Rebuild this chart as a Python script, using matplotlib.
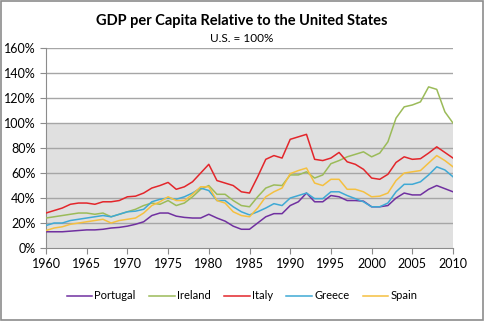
import numpy as np
import matplotlib
matplotlib.use("Agg")
import matplotlib.pyplot as plt
from matplotlib.ticker import FuncFormatter, MultipleLocator
from matplotlib.patches import Rectangle

plt.rcParams['font.family'] = ['Lato', 'DejaVu Sans']

years = list(range(1960, 2011))

portugal = [13, 13, 13, 13.5, 14, 14.5, 14.5, 15, 16, 16.5,
            17.5, 19, 21, 26, 28, 28, 25.5, 24.5, 24, 24,
            27, 24, 21.5, 17.5, 15, 15, 20, 25, 27.5, 27.5,
            34, 37, 44, 37, 37, 42, 41, 38, 38, 37.5,
            33, 33, 34, 40, 44, 42.5, 42.5, 47, 50, 47.5,
            45]
ireland = [24, 25, 26, 27, 28, 28, 27, 28, 25, 27,
           29, 31, 34, 36, 35, 38, 34, 36, 41, 47,
           50, 43, 43, 38, 34, 33, 41, 48, 50.5, 50,
           58.5, 58.5, 61, 56, 58.5, 67.5, 70, 73, 75, 77,
           73, 76, 85, 104, 113, 114.5, 117, 129, 127, 109,
           100]
italy = [28, 30, 32, 35, 36, 36, 35, 37, 37, 38,
         41, 41.5, 44, 48, 50, 52.5, 47, 49, 53, 60,
         67, 54, 52, 50, 45, 44, 57, 71, 74, 72,
         87, 89, 91, 71, 70, 72, 76.5, 69, 67, 63,
         56, 55, 59, 68.5, 73, 71, 71.5, 76, 81, 76.5,
         72]
greece = [18, 20, 20, 22, 23, 24, 25, 26, 25, 27,
          29, 29.5, 31, 37, 39, 40, 39, 41, 44, 48,
          46, 38, 38, 33, 29, 26.5, 29, 32, 35.5, 34,
          40, 42, 44, 39.5, 39.5, 45, 45, 42, 39.5, 37,
          33, 33, 36, 45, 51, 51, 53, 58.5, 65, 62.5,
          57]
spain = [14, 16, 17, 19, 20, 21, 22, 23, 20, 22,
         23, 24, 28, 34, 37, 41, 38, 38, 43, 49,
         49, 38, 36, 29, 26, 25, 32, 41, 45, 48,
         59.5, 62, 64, 52, 50, 55, 55, 47, 47, 45,
         41, 41.5, 44, 54, 60, 61, 62, 68, 74, 70,
         65]

series = [("Portugal", portugal, "#7030A0"),
          ("Ireland", ireland, "#9BBB59"),
          ("Italy", italy, "#E3262B"),
          ("Greece", greece, "#3FA9D5"),
          ("Spain", spain, "#F5C040")]

fig = plt.figure(figsize=(4.84, 3.21), dpi=100)
ax = fig.add_axes([0.095, 0.2274, 0.841, 0.6226])

ax.axhspan(0, 100, color="#E0E0E0", zorder=0, lw=0)
for yv in range(20, 161, 20):
    ax.axhline(yv, color="#A6A6A6", lw=1, zorder=1)

for name, vals, col in series:
    ax.plot(years, vals, color=col, lw=1.1, label=name, zorder=3)

ax.set_xlim(1960, 2010)
ax.set_ylim(0, 160)
ax.xaxis.set_major_locator(MultipleLocator(5))
ax.yaxis.set_major_locator(MultipleLocator(20))
ax.yaxis.set_major_formatter(FuncFormatter(lambda v, p: "%d%%" % v))
ax.tick_params(axis="both", labelsize=9, color="#8C8C8C", length=4,
               direction="out", labelcolor="black")
for s in ["top", "right"]:
    ax.spines[s].set_visible(False)
for s in ["left", "bottom"]:
    ax.spines[s].set_color("#8C8C8C")

fig.text(0.5, 0.935, "GDP per Capita Relative to the United States",
         ha="center", va="center", fontsize=10.5, fontweight="bold")
fig.text(0.5, 0.88, "U.S. = 100%", ha="center", va="center", fontsize=8.5)

fig.legend(loc="center", bbox_to_anchor=(0.5, 0.078), ncol=5, frameon=False,
           fontsize=8, handlelength=2.3, columnspacing=1.2, handletextpad=0.2)

fig.patches.append(Rectangle((0.002, 0.003), 0.995, 0.994, transform=fig.transFigure,
                             fill=False, edgecolor="#8C8C8C", lw=1.2))

fig.savefig("out.png", dpi=100)
